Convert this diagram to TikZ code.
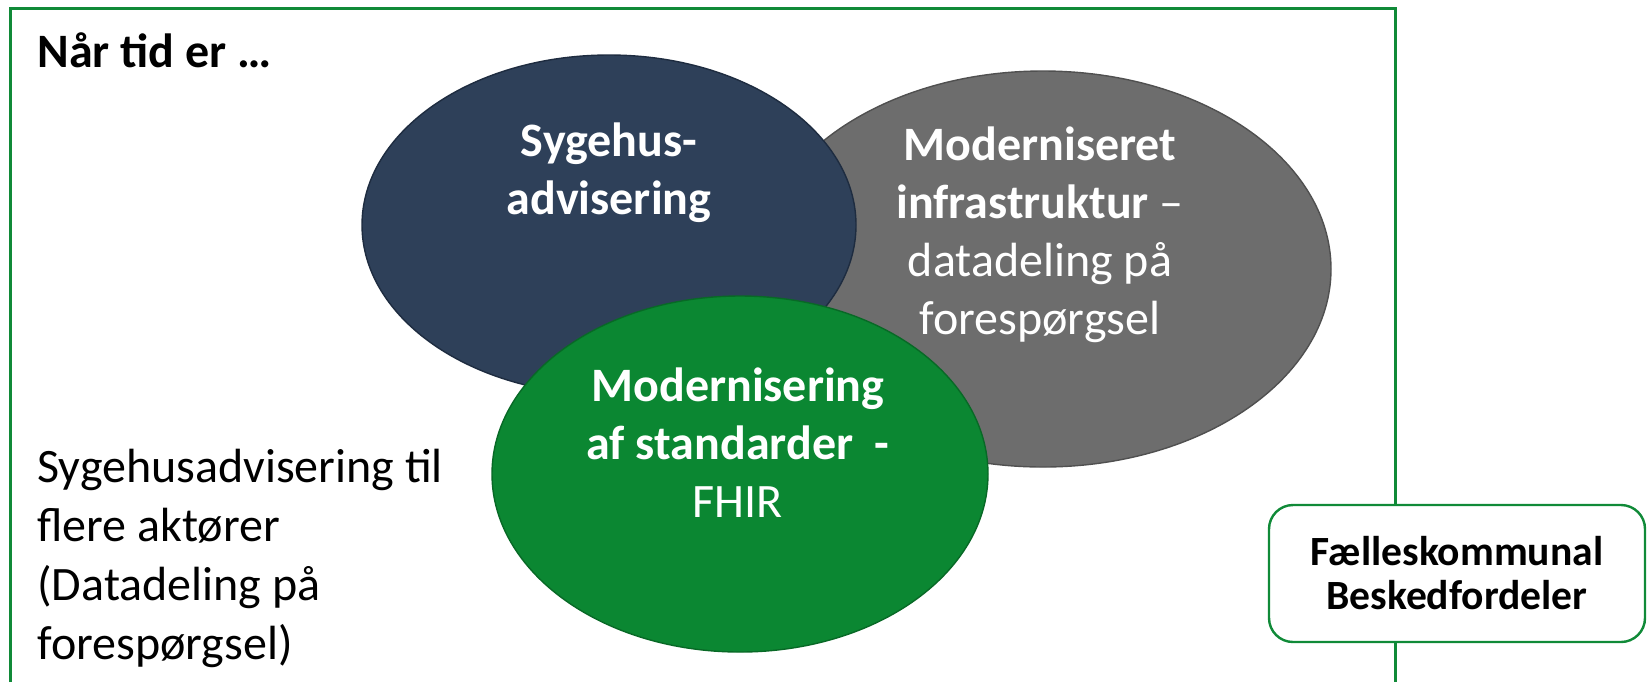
\documentclass[tikz,border=0pt]{standalone}
\usepackage{fontspec}
\setmainfont{Carlito}
\usetikzlibrary{shapes.geometric}
\definecolor{framegreen}{RGB}{16,138,56}
\definecolor{navyfill}{RGB}{46,64,89}
\definecolor{navyline}{RGB}{30,44,64}
\definecolor{greyfill}{RGB}{109,109,109}
\definecolor{greyline}{RGB}{80,80,80}
\definecolor{leaffill}{RGB}{11,135,50}
\definecolor{leafline}{RGB}{8,105,38}

\tikzset{
  bubble/.style={ellipse,draw,line width=0.7pt,inner sep=0pt},
  bubbletext/.style={font=\fontsize{24}{29}\selectfont,text=white,align=center,inner sep=0pt},
  plaintext/.style={font=\fontsize{24}{29.5}\selectfont,align=left,inner sep=0pt}
}

\begin{document}
\begin{tikzpicture}[x=0.5pt,y=-0.5pt]
\useasboundingbox (0,0) rectangle (1647,682);
% open frame, no bottom edge
\draw[framegreen,line width=1.5pt] (10.7,682) -- (10.7,8.5) -- (1395.5,8.5) -- (1395.5,682);

\node[plaintext,anchor=west,font=\fontsize{24}{29}\selectfont\bfseries] (title) at (37,50) {Når tid er …};

% the three circles
\node[bubble,fill=greyfill,draw=greyline,minimum width=288pt,minimum height=198pt] (infra) at (1043,269) {};
\node[bubble,fill=navyfill,draw=navyline,minimum width=247pt,minimum height=170pt] (advis) at (609,225) {};
\node[bubble,fill=leaffill,draw=leafline,minimum width=248pt,minimum height=178pt] (fhir) at (740,474) {};

\node[bubbletext] (advistxt) at (609,173) {\textbf{Sygehus-}\\\textbf{advisering}};
\node[bubbletext] (infratxt) at (1040,235) {\textbf{Moderniseret}\\\textbf{infrastruktur} –\\datadeling på\\forespørgsel};
\node[bubbletext] (fhirtxt) at (738,443) {\textbf{Modernisering}\\\textbf{af standarder\ \ -}\\FHIR};

\node[plaintext,anchor=west] (actors) at (37,558) {Sygehusadvisering til\\flere aktører\\(Datadeling på\\forespørgsel)};

\node[draw=framegreen,fill=white,line width=1.2pt,rounded corners=12pt,
      minimum width=188pt,minimum height=68.5pt,align=center,
      font=\fontsize{20.8}{22}\selectfont\bfseries] (router) at (1457,573.5) {Fælleskommunal\\Beskedfordeler};
\end{tikzpicture}
\end{document}
